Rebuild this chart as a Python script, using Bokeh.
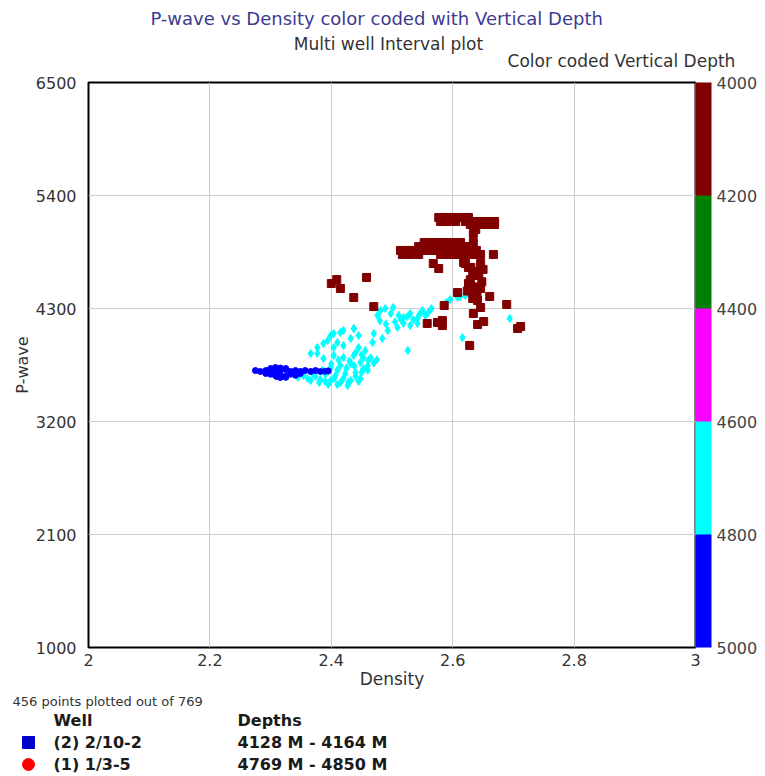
from bokeh.plotting import figure
from bokeh.layouts import column, row
from bokeh.models import (LinearColorMapper, ColorBar, FixedTicker, CustomJSTickFormatter,
                          ColumnDataSource, Range1d, AllLabels)
from bokeh.core.properties import value
from bokeh.transform import transform
from bokeh.embed import file_html
from bokeh.resources import INLINE

# ---------------- data ----------------
depth_colors = ["#800000", "#008000", "#ff00ff", "#00ffff", "#0000ff"]  # 4000->5000
depth_ticks = [4000, 4200, 4400, 4600, 4800, 5000]
x_ticks = [2, 2.2, 2.4, 2.6, 2.8, 3]
y_ticks = [1000, 2100, 3200, 4300, 5400, 6500]

title_main = "P-wave vs  Density color coded with Vertical Depth"
title_sub = "Multi well Interval plot"
cbar_title = "Color coded Vertical Depth"
points_note = "456 points plotted out of 769"
legend_head = ["Well", "Depths"]
well_names = ["(2) 2/10-2", "(1) 1/3-5"]
well_depths = ["4128 M - 4164 M", "4769 M - 4850 M"]
well_swatch_colors = ["#0000cc", "#ff0000"]
well_swatch_markers = ["square", "circle"]

# Well (2) 2/10-2, depths 4128-4164 M (maroon squares)
well2_density = [
    2.577, 2.585, 2.593, 2.601, 2.610, 2.618, 2.626,
    2.580, 2.591, 2.605, 2.621, 2.633, 2.643, 2.654, 2.662, 2.669,
    2.629, 2.646, 2.659, 2.669,
    2.638, 2.634, 2.634,
    2.553, 2.563, 2.573, 2.583, 2.593, 2.603, 2.613,
    2.544, 2.557, 2.570, 2.583, 2.596, 2.610, 2.623,
    2.514, 2.524, 2.534, 2.547, 2.560, 2.573, 2.586, 2.600, 2.613, 2.626, 2.639,
    2.517, 2.530, 2.544, 2.580, 2.593, 2.606, 2.619, 2.633, 2.646, 2.667,
    2.568, 2.577, 2.618, 2.626,
    2.621, 2.646, 2.633, 2.643, 2.626, 2.646, 2.634, 2.633, 2.641, 2.638, 2.629,
    2.648, 2.636, 2.624, 2.640, 2.650, 2.630,
    2.608, 2.661, 2.586, 2.689, 2.646, 2.634, 2.651, 2.641, 2.583, 2.583, 2.712, 2.707, 2.628,
    2.400, 2.409, 2.415, 2.437, 2.458, 2.470,
    2.558, 2.575,
]
well2_pwave = [
    5186, 5186, 5186, 5186, 5186, 5186, 5186,
    5147, 5147, 5147, 5147, 5147, 5147, 5147, 5147, 5147,
    5118, 5118, 5118, 5118,
    5069, 5030, 4942,
    4942, 4942, 4942, 4942, 4942, 4942, 4942,
    4903, 4903, 4903, 4903, 4903, 4903, 4903,
    4865, 4865, 4865, 4865, 4865, 4865, 4865, 4865, 4865, 4865, 4865,
    4826, 4826, 4826, 4826, 4826, 4826, 4826, 4826, 4826, 4826,
    4738, 4689, 4748, 4699,
    4738, 4738, 4621, 4621, 4543, 4495, 4446, 4397, 4378, 4660, 4580,
    4560, 4510, 4470, 4420, 4680, 4700,
    4456, 4417, 4329, 4339, 4310, 4251, 4173, 4144, 4183, 4134, 4125, 4105, 3940,
    4543, 4582, 4495, 4407, 4602, 4319,
    4154, 4164,
]
well2_depth = 4150

# Well (1) 1/3-5, depths 4769-4800 M part (cyan)
well1a_density = [
    2.596, 2.608, 2.621, 2.694, 2.616, 2.590, 2.612,
    2.476, 2.481, 2.489, 2.498, 2.502, 2.511, 2.519, 2.530, 2.542, 2.550, 2.555,
    2.468, 2.484, 2.470, 2.493, 2.509, 2.519, 2.530, 2.542, 2.535, 2.560, 2.565,
    2.404, 2.420, 2.437, 2.445, 2.432, 2.410, 2.394, 2.420, 2.445, 2.456,
    2.526,
    2.377, 2.387, 2.404, 2.420, 2.437, 2.453, 2.399, 2.415, 2.432, 2.448, 2.461,
    2.407, 2.423, 2.440, 2.453, 2.415, 2.432, 2.448, 2.427,
    2.354, 2.361, 2.366, 2.374, 2.382, 2.390, 2.399, 2.390, 2.405, 2.380,
    2.366, 2.377, 2.387, 2.399, 2.415, 2.437, 2.404,
    2.460, 2.470, 2.475, 2.465, 2.450, 2.440, 2.430, 2.410, 2.395, 2.420, 2.440, 2.460,
    2.345, 2.370, 2.385, 2.400, 2.412, 2.425, 2.438, 2.450, 2.395, 2.410, 2.428, 2.445,
    2.480, 2.490, 2.505, 2.515, 2.525, 2.545,
]
well1a_pwave = [
    4387, 4407, 4426, 4203, 4017, 4360, 4415,
    4232, 4280, 4300, 4251, 4310, 4232, 4212, 4251, 4203, 4280, 4232,
    3969, 4008, 4057, 4086, 4115, 4154, 4134, 4154, 4190, 4260, 4300,
    4057, 4086, 4105, 4037, 4008, 3969, 3988, 3940, 3920, 3891,
    3891,
    3862, 3813, 3842, 3823, 3842, 3823, 3725, 3745, 3764, 3774, 3794,
    3648, 3667, 3677, 3716, 3579, 3599, 3618, 3550,
    3648, 3618, 3599, 3638, 3609, 3589, 3599, 3660, 3620, 3579,
    3862, 3920, 3959, 4037, 4066, 4105, 3920,
    3740, 3770, 3800, 3820, 3850, 3870, 3790, 3700, 3690, 3620, 3640, 3700,
    3630, 3660, 3700, 3760, 3800, 3720, 3740, 3680, 3560, 3560, 3580, 3590,
    4180, 4150, 4170, 4190, 4220, 4240,
]
well1a_depth = 4790

# Well (1) 1/3-5, depths 4800-4850 M part (blue)
well1b_density = [
    2.275, 2.283, 2.292, 2.300, 2.308, 2.316, 2.325, 2.333, 2.341, 2.349, 2.357, 2.366,
    2.374, 2.382, 2.390, 2.395,
    2.292, 2.300, 2.308, 2.316, 2.325, 2.333, 2.341, 2.349,
    2.308, 2.316, 2.300, 2.325,
    2.316, 2.325, 2.310,
]
well1b_pwave = [
    3696, 3687, 3696, 3706, 3687, 3696, 3706, 3687, 3696, 3687, 3696, 3687,
    3696, 3687, 3690, 3692,
    3667, 3660, 3648, 3655, 3640, 3660, 3650, 3667,
    3725, 3720, 3716, 3716,
    3628, 3630, 3638,
]
well1b_depth = 4830

# ---------------- layout constants (pixels) ----------------
W = 765
TOP_H = 72          # header strip
SPLIT = 692         # bottom of main figure
H = 776
L, R = 88, 70
FRAME_TOP = 82
FRAME_W, FRAME_H = 607, 565
FONT = "DejaVu Sans"


def blank(h, y_top):
    f = figure(width=W, height=h, x_range=Range1d(0, W), y_range=Range1d(y_top + h, y_top),
               output_backend="svg", toolbar_location=None, min_border=0,
               x_axis_location=None, y_axis_location=None)
    f.outline_line_color = None
    f.grid.visible = False
    f.background_fill_color = "white"
    f.border_fill_color = "white"
    return f


# ---------------- header ----------------
top = blank(TOP_H, 0)
top.text(x=[379], y=[18], text=[title_main], text_font=value(FONT), text_font_size="18px",
         text_color="#3b3b90", text_align="center", text_baseline="middle")
top.text(x=[388], y=[43], text=[title_sub], text_font=value(FONT), text_font_size="17px",
         text_color="#333333", text_align="center", text_baseline="middle")
top.text(x=[621], y=[60], text=[cbar_title], text_font=value(FONT), text_font_size="17px",
         text_color="#333333", text_align="center", text_baseline="middle")

# ---------------- main plot ----------------
p = figure(frame_width=FRAME_W, frame_height=FRAME_H,
           x_range=(x_ticks[0], x_ticks[-1]), y_range=(y_ticks[0], y_ticks[-1]),
           output_backend="svg", toolbar_location=None, title=None,
           min_border_left=L, min_border_right=R, min_border_top=FRAME_TOP - TOP_H,
           min_border_bottom=SPLIT - FRAME_TOP - FRAME_H)
p.background_fill_color = "white"
p.border_fill_color = "white"
p.outline_line_color = "black"
p.outline_line_width = 2

p.xaxis.ticker = FixedTicker(ticks=x_ticks)
p.yaxis.ticker = FixedTicker(ticks=y_ticks)
p.xaxis.formatter = CustomJSTickFormatter(code="return String(parseFloat(tick.toFixed(1)))")
for ax in (p.xaxis[0], p.yaxis[0]):
    ax.axis_line_color = None
    ax.major_tick_line_color = None
    ax.minor_tick_line_color = None
    ax.major_label_text_font = FONT
    ax.major_label_text_font_size = "16px"
    ax.major_label_text_color = "#333333"
    ax.axis_label_text_font = FONT
    ax.axis_label_text_font_style = "normal"
    ax.axis_label_text_color = "#333333"
p.xaxis.axis_label = "Density"
p.yaxis.axis_label = "P-wave"
p.xaxis.axis_label_text_font_size = "17px"
p.yaxis.axis_label_text_font_size = "16px"
p.xaxis.major_label_standoff = 0
p.xaxis.axis_label_standoff = 0
p.yaxis.major_label_standoff = 6
p.yaxis.axis_label_standoff = 1
p.grid.grid_line_color = "#cccccc"
p.grid.grid_line_width = 1

mapper = LinearColorMapper(palette=depth_colors, low=depth_ticks[0], high=depth_ticks[-1])

src2 = ColumnDataSource(dict(x=well2_density, y=well2_pwave, d=[well2_depth] * len(well2_density)))
src1a = ColumnDataSource(dict(x=well1a_density, y=well1a_pwave, d=[well1a_depth] * len(well1a_density)))
src1b = ColumnDataSource(dict(x=well1b_density, y=well1b_pwave, d=[well1b_depth] * len(well1b_density)))

p.scatter("x", "y", source=src1a, marker="diamond", size=8,
          fill_color=transform("d", mapper), line_color=transform("d", mapper))
p.scatter("x", "y", source=src1b, marker="circle", size=6,
          fill_color=transform("d", mapper), line_color=transform("d", mapper))
p.scatter("x", "y", source=src2, marker="square", size=8,
          fill_color=transform("d", mapper), line_color=transform("d", mapper))

# color bar (4000 at top, 5000 at bottom)
cb_mapper = LinearColorMapper(palette=list(reversed(depth_colors)),
                              low=-depth_ticks[-1], high=-depth_ticks[0])
cbar = ColorBar(color_mapper=cb_mapper, width=16, padding=0, margin=2,
                ticker=FixedTicker(ticks=[-t for t in depth_ticks]),
                formatter=CustomJSTickFormatter(code="return String(Math.abs(tick))"),
                major_label_policy=AllLabels(),
                major_tick_line_color=None, minor_tick_line_color=None,
                major_label_text_font=FONT, major_label_text_font_size="16px",
                major_label_text_color="#444444", label_standoff=5,
                bar_line_color=None, border_line_color=None)
p.add_layout(cbar, "right")

# ---------------- footer ----------------
bot = blank(H - SPLIT, SPLIT)
bot.text(x=[12], y=[701], text=[points_note], text_font=value(FONT), text_font_size="13px",
         text_color="#333333", text_align="left", text_baseline="middle")
bot.text(x=[53, 237], y=[720, 720], text=legend_head, text_font=value(FONT),
         text_font_size="16px", text_font_style="bold", text_color="#1a1a1a",
         text_align="left", text_baseline="middle")
row_y = [742, 764]
bot.text(x=[53, 53], y=row_y, text=well_names, text_font=value(FONT),
         text_font_size="16px", text_font_style="bold", text_color="#1a1a1a",
         text_align="left", text_baseline="middle")
bot.text(x=[237, 237], y=row_y, text=well_depths, text_font=value(FONT),
         text_font_size="16px", text_font_style="bold", text_color="#1a1a1a",
         text_align="left", text_baseline="middle")
bot.scatter(x=[28, 28], y=row_y, marker=well_swatch_markers, size=12,
            fill_color=well_swatch_colors, line_color=well_swatch_colors)

layout = column(top, row(p), bot, spacing=0)
open("out.html", "w").write(file_html(layout, INLINE))
